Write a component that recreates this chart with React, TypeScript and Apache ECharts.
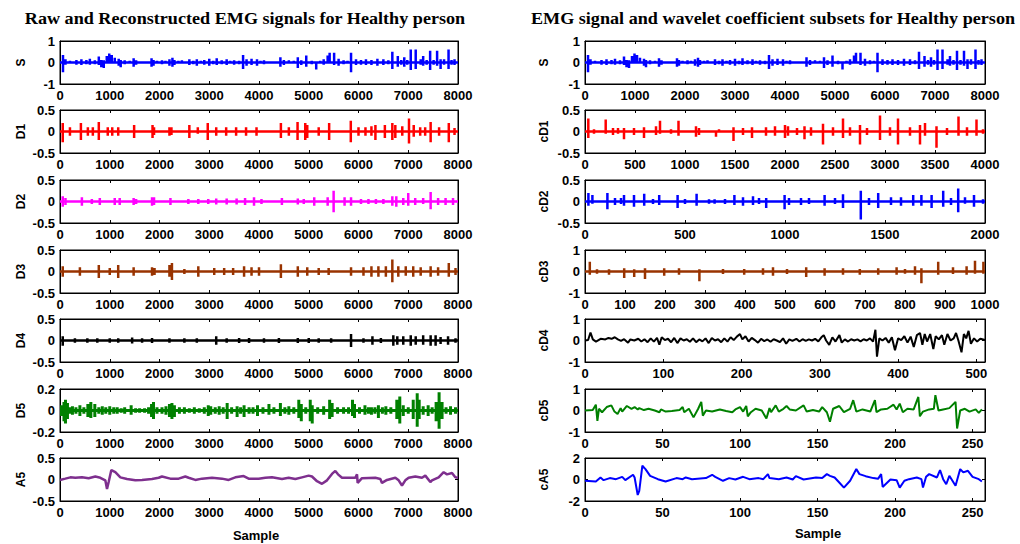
import React, { useEffect, useRef } from "react";
import * as echarts from "echarts";

// ---------- data ----------
// spike lists: [sample, upper excursion, lower excursion]
const sSpikes: number[][] = [
  [60, 0.35, -0.45], [110, 0.15, -0.1], [200, 0.08, -0.06], [330, 0.12, -0.1], [430, 0.15, -0.12], [530, 0.12, -0.08], [600, 0.18, -0.1],
  [700, 0.1, -0.08], [780, 0.28, -0.12], [830, 0.12, -0.22], [880, 0.1, -0.25], [940, 0.3, -0.05], [990, 0.42, 0.1], [1040, 0.35, 0.05],
  [1100, 0.22, -0.05], [1180, 0.18, -0.15], [1220, 0.12, -0.22], [1300, 0.1, -0.08], [1400, 0.08, -0.06], [1480, 0.2, -0.2], [1530, 0.1, -0.1],
  [1650, 0.06, -0.05], [1840, 0.2, -0.2], [1880, 0.12, -0.15], [1950, 0.08, -0.05], [2050, 0.1, -0.08], [2120, 0.08, -0.06], [2200, 0.15, -0.15], [2260, 0.22, -0.2],
  [2300, 0.12, -0.12], [2380, 0.08, -0.06], [2450, 0.1, -0.05], [2600, 0.15, -0.12], [2680, 0.08, -0.08], [2750, 0.15, -0.15], [2830, 0.08, -0.06], [2900, 0.12, -0.1], [3000, 0.18, -0.15],
  [3080, 0.08, -0.08], [3150, 0.2, -0.12], [3250, 0.1, -0.08], [3350, 0.15, -0.12], [3420, 0.08, -0.06], [3500, 0.1, -0.1], [3600, 0.08, -0.08], [3680, 0.35, -0.3], [3750, 0.15, -0.15], [3850, 0.18, -0.12],
  [3960, 0.15, -0.15], [4030, 0.08, -0.06], [4100, 0.1, -0.08], [4250, 0.06, -0.05], [4430, 0.25, -0.2], [4500, 0.12, -0.12], [4600, 0.1, -0.05], [4700, 0.08, -0.06], [4780, 0.25, -0.25],
  [4850, 0.1, -0.12], [4950, 0.32, -0.2], [5060, 0.08, -0.08], [5150, 0.05, -0.32], [5230, 0.08, -0.06], [5300, 0.15, -0.1], [5380, 0.32, -0.05],
  [5420, 0.45, 0.0], [5510, 0.45, -0.12], [5600, 0.18, -0.15], [5700, 0.1, -0.08], [5780, 0.08, -0.06], [5850, 0.45, -0.45], [5950, 0.15, -0.12],
  [6050, 0.12, -0.1], [6150, 0.15, -0.12], [6260, 0.12, -0.12], [6380, 0.18, -0.15], [6500, 0.15, -0.12], [6600, 0.1, -0.08], [6680, 0.5, -0.3],
  [6790, 0.3, -0.2], [6860, 0.12, -0.1], [6920, 0.25, -0.2], [6980, 0.12, -0.1], [7050, 0.6, -0.35], [7150, 0.6, -0.3], [7250, 0.15, -0.1], [7300, 0.3, -0.15],
  [7370, 0.12, -0.1], [7440, 0.55, -0.35], [7510, 0.12, -0.1], [7580, 0.55, -0.15], [7650, 0.15, -0.3], [7720, 0.15, -0.1], [7810, 0.6, -0.3], [7870, 0.12, -0.1], [7930, 0.15, -0.12],
];

const d1Spikes: number[][] = [
  [55, 0.2, -0.25], [200, 0.1, -0.1], [420, 0.2, -0.2], [560, 0.1, -0.1], [660, 0.1, -0.1], [780, 0.22, -0.2], [960, 0.1, -0.1],
  [1050, 0.1, -0.1], [1170, 0.1, -0.1], [1490, 0.15, -0.15], [1860, 0.15, -0.15], [1890, 0.1, -0.08], [2200, 0.1, -0.1],
  [2240, 0.1, -0.08], [2600, 0.15, -0.15], [2770, 0.1, -0.05], [2970, 0.2, -0.2], [3140, 0.1, -0.1], [3340, 0.1, -0.1],
  [3540, 0.1, -0.1], [3740, 0.1, -0.1], [3950, 0.1, -0.1], [4440, 0.2, -0.15], [4600, 0.1, -0.1], [4775, 0.22, -0.2],
  [4930, 0.2, -0.2], [4970, 0.15, -0.15], [5200, 0.1, -0.1], [5410, 0.2, -0.2], [5845, 0.25, -0.25], [6000, 0.1, -0.1],
  [6140, 0.1, -0.1], [6260, 0.12, -0.1], [6340, 0.15, -0.2], [6530, 0.15, -0.15], [6680, 0.2, -0.2], [6740, 0.15, -0.15],
  [6880, 0.12, -0.1], [7015, 0.3, -0.28], [7110, 0.15, -0.12], [7240, 0.1, -0.1], [7340, 0.1, -0.1], [7450, 0.22, -0.25],
  [7620, 0.1, -0.1], [7815, 0.2, -0.25], [7930, 0.08, -0.08],
];

const d2Spikes: number[][] = [
  [55, 0.12, -0.12], [110, 0.08, -0.08], [440, 0.1, -0.1], [640, 0.06, -0.06], [800, 0.08, -0.08], [1100, 0.08, -0.08],
  [1200, 0.08, -0.08], [1480, 0.08, -0.08], [1530, 0.06, -0.06], [1850, 0.1, -0.1], [1890, 0.1, -0.08], [2220, 0.08, -0.08],
  [2580, 0.06, -0.06], [2780, 0.06, -0.06], [2980, 0.06, -0.06], [3140, 0.07, -0.07], [3350, 0.07, -0.07], [3550, 0.07, -0.07],
  [3720, 0.08, -0.08], [3900, 0.1, -0.1], [4050, 0.06, -0.06], [4460, 0.08, -0.08], [4780, 0.07, -0.07], [4900, 0.06, -0.06],
  [5110, 0.1, -0.1], [5380, 0.1, -0.1], [5500, 0.25, -0.25], [5720, 0.1, -0.1], [5850, 0.1, -0.1], [6050, 0.06, -0.06],
  [6200, 0.06, -0.06], [6350, 0.06, -0.06], [6500, 0.06, -0.06], [6680, 0.12, -0.1], [6760, 0.12, -0.12], [6900, 0.08, -0.08],
  [7000, 0.2, -0.1], [7140, 0.08, -0.08], [7300, 0.08, -0.06], [7450, 0.22, -0.18], [7600, 0.08, -0.08], [7750, 0.08, -0.08],
  [7900, 0.08, -0.08],
];

const d3Spikes: number[][] = [
  [55, 0.12, -0.12], [400, 0.1, -0.1], [780, 0.15, -0.15], [1000, 0.08, -0.08], [1170, 0.15, -0.15], [1480, 0.1, -0.1],
  [1850, 0.1, -0.1], [1900, 0.08, -0.08], [2200, 0.15, -0.12], [2250, 0.2, -0.2], [2500, 0.06, -0.06], [2780, 0.12, -0.12],
  [3100, 0.08, -0.08], [3300, 0.08, -0.08], [3480, 0.08, -0.08], [3700, 0.12, -0.12], [3850, 0.1, -0.1], [4000, 0.1, -0.1],
  [4440, 0.17, -0.15], [4780, 0.12, -0.12], [4970, 0.1, -0.1], [5200, 0.08, -0.08], [5400, 0.08, -0.08], [5850, 0.1, -0.1],
  [6100, 0.1, -0.1], [6260, 0.12, -0.12], [6400, 0.12, -0.12], [6550, 0.12, -0.12], [6680, 0.28, -0.25], [6800, 0.12, -0.12],
  [6950, 0.12, -0.1], [7100, 0.12, -0.12], [7250, 0.1, -0.1], [7450, 0.12, -0.12], [7600, 0.1, -0.1], [7815, 0.2, -0.12],
  [7950, 0.08, -0.08],
];

const d4Spikes: number[][] = [
  [55, 0.1, -0.12], [300, 0.05, -0.05], [550, 0.05, -0.05], [750, 0.05, -0.05], [1000, 0.05, -0.05], [1170, 0.05, -0.05],
  [1450, 0.07, -0.07], [1650, 0.05, -0.05], [1850, 0.06, -0.06], [2200, 0.05, -0.05], [2500, 0.05, -0.05], [2750, 0.05, -0.05],
  [3140, 0.1, -0.1], [3350, 0.05, -0.05], [3600, 0.06, -0.06], [3800, 0.06, -0.06], [4100, 0.05, -0.05], [4400, 0.06, -0.06],
  [4780, 0.06, -0.06], [5000, 0.06, -0.06], [5200, 0.05, -0.05], [5450, 0.05, -0.05], [5850, 0.15, -0.15], [6100, 0.05, -0.05],
  [6280, 0.1, -0.1], [6450, 0.06, -0.06], [6700, 0.12, -0.12], [6780, 0.1, -0.1], [6900, 0.1, -0.1], [7050, 0.12, -0.12],
  [7150, 0.1, -0.1], [7300, 0.12, -0.1], [7450, 0.12, -0.12], [7550, 0.12, -0.12], [7650, 0.08, -0.08], [7800, 0.1, -0.1],
  [7950, 0.05, -0.05],
];

const d5Spikes: number[][] = [
  [30, 0.05, -0.05], [80, 0.08, -0.1], [110, 0.1, -0.12], [150, 0.07, -0.08], [200, 0.03, -0.03], [250, 0.04, -0.04], [320, 0.03, -0.03],
  [400, 0.05, -0.05], [480, 0.03, -0.03], [560, 0.06, -0.06], [620, 0.08, -0.07], [700, 0.06, -0.06], [780, 0.03, -0.03], [850, 0.04, -0.04],
  [920, 0.03, -0.03], [1000, 0.04, -0.04], [1080, 0.03, -0.03], [1150, 0.03, -0.03], [1230, 0.02, -0.02], [1300, 0.03, -0.03],
  [1430, 0.05, -0.04], [1520, 0.02, -0.02], [1600, 0.02, -0.02], [1700, 0.02, -0.02], [1780, 0.03, -0.03], [1840, 0.06, -0.06],
  [1880, 0.08, -0.08], [1950, 0.03, -0.03], [2050, 0.03, -0.03], [2130, 0.04, -0.04], [2200, 0.06, -0.06], [2250, 0.07, -0.08],
  [2300, 0.05, -0.06], [2400, 0.03, -0.03], [2500, 0.03, -0.03], [2600, 0.02, -0.02], [2700, 0.03, -0.03], [2800, 0.02, -0.02],
  [2900, 0.03, -0.03], [2980, 0.05, -0.05], [3030, 0.04, -0.04], [3120, 0.03, -0.03], [3200, 0.04, -0.04], [3280, 0.03, -0.03],
  [3360, 0.07, -0.08], [3450, 0.03, -0.03], [3560, 0.04, -0.06], [3630, 0.03, -0.03], [3700, 0.05, -0.06], [3800, 0.03, -0.03],
  [3880, 0.03, -0.03], [3970, 0.05, -0.05], [4080, 0.03, -0.03], [4200, 0.06, -0.04], [4300, 0.03, -0.03], [4430, 0.07, -0.05],
  [4520, 0.03, -0.03], [4600, 0.04, -0.04], [4700, 0.03, -0.03], [4800, 0.1, -0.07], [4850, 0.06, -0.1], [4940, 0.03, -0.03],
  [5030, 0.1, -0.1], [5070, 0.05, -0.12], [5180, 0.03, -0.03], [5300, 0.04, -0.04], [5420, 0.1, -0.08], [5470, 0.07, -0.06],
  [5580, 0.03, -0.03], [5700, 0.03, -0.03], [5800, 0.03, -0.03], [5880, 0.1, -0.05], [5920, 0.06, -0.07], [6020, 0.03, -0.03],
  [6130, 0.05, -0.04], [6200, 0.03, -0.03], [6260, 0.03, -0.04], [6330, 0.03, -0.03], [6400, 0.05, -0.07], [6480, 0.03, -0.03],
  [6550, 0.04, -0.04], [6650, 0.03, -0.03], [6770, 0.1, -0.08], [6830, 0.13, -0.12], [6900, 0.05, -0.05], [7000, 0.03, -0.03],
  [7100, 0.1, -0.08], [7180, 0.16, -0.15], [7220, 0.1, -0.08], [7300, 0.04, -0.04], [7400, 0.05, -0.05], [7480, 0.03, -0.03],
  [7560, 0.08, -0.1], [7620, 0.17, -0.17], [7680, 0.08, -0.08], [7760, 0.03, -0.03], [7850, 0.04, -0.04], [7950, 0.03, -0.03],
];

// approximation signal A5: [sample, value]
const a5Points: number[][] = [
  [0, -0.01], [107, 0.02], [208, 0.05], [308, 0.04], [442, 0.05], [576, 0.03], [710, 0.07], [811, 0.04], [911, -0.02],
  [945, -0.22], [978, -0.06], [1032, 0.22], [1112, 0.17], [1213, 0.05], [1347, 0.01], [1514, -0.02], [1648, -0.01],
  [1849, 0.01], [1983, 0.04], [2050, 0.07], [2218, 0.02], [2385, 0.02], [2519, 0.07], [2586, 0.04], [2720, -0.01],
  [2854, 0.02], [3055, 0.04], [3256, 0.02], [3390, -0.01], [3524, 0.05], [3692, 0.08], [3792, 0.02], [3993, 0.02],
  [4127, 0.04], [4261, 0.05], [4462, 0.01], [4596, 0.04], [4730, 0.01], [4864, 0.05], [4998, 0.09], [5065, 0.07],
  [5166, -0.04], [5266, -0.1], [5367, -0.02], [5467, 0.13], [5534, 0.2], [5588, 0.12], [5668, 0.04], [5936, 0.04],
  [5970, 0.12], [5983, -0.08], [6070, 0.03], [6338, 0.04], [6439, 0.01], [6472, -0.08], [6573, -0.01], [6740, 0.04],
  [6807, -0.02], [6874, -0.14], [6941, -0.02], [7008, 0.04], [7142, 0.07], [7276, 0.04], [7343, 0.09], [7444, -0.06],
  [7477, -0.02], [7611, 0.05], [7712, 0.17], [7779, 0.12], [7879, 0.15], [7946, 0.05], [8000, 0.04],
];

// wavelet coefficient subsets
const cd1Spikes: number[][] = [
  [33, 0.3, -0.15], [90, 0.05, -0.05], [207, 0.28, -0.05], [280, 0.08, -0.08], [330, 0.08, -0.05], [390, 0.08, -0.18],
  [490, 0.08, -0.08], [590, 0.1, -0.15], [710, 0.12, -0.08], [750, 0.25, -0.05], [860, 0.05, -0.05], [935, 0.25, -0.1],
  [1110, 0.12, -0.12], [1140, 0.08, -0.08], [1310, 0.03, -0.12], [1340, 0.05, -0.03], [1485, 0.1, -0.22], [1580, 0.08, -0.08],
  [1670, 0.1, -0.15], [1810, 0.1, -0.1], [1900, 0.12, -0.1], [2000, 0.15, -0.15], [2030, 0.12, -0.1], [2120, 0.08, -0.08],
  [2195, 0.12, -0.18], [2260, 0.1, -0.1], [2380, 0.18, -0.3], [2480, 0.1, -0.1], [2580, 0.3, -0.15], [2650, 0.1, -0.1],
  [2750, 0.15, -0.3], [2820, 0.08, -0.08], [2950, 0.37, -0.2], [3050, 0.1, -0.1], [3130, 0.3, -0.3], [3250, 0.1, -0.1],
  [3350, 0.15, -0.3], [3400, 0.2, -0.1], [3515, 0.12, -0.38], [3620, 0.08, -0.08], [3735, 0.35, -0.1], [3820, 0.1, -0.1],
  [3915, 0.28, -0.1], [3980, 0.05, -0.05],
];

const cd2Spikes: number[][] = [
  [17, 0.2, -0.1], [37, 0.15, -0.05], [112, 0.2, -0.18], [150, 0.08, -0.08], [180, 0.08, -0.06], [195, 0.15, -0.1],
  [245, 0.15, -0.12], [296, 0.18, -0.1], [340, 0.06, -0.06], [371, 0.15, -0.08], [463, 0.15, -0.15], [500, 0.06, -0.06],
  [558, 0.18, -0.1], [620, 0.05, -0.05], [648, 0.05, -0.05], [700, 0.06, -0.06], [747, 0.15, -0.08], [790, 0.1, -0.1],
  [840, 0.12, -0.08], [870, 0.08, -0.06], [906, 0.08, -0.15], [998, 0.15, -0.18], [1020, 0.08, -0.08], [1080, 0.08, -0.08],
  [1120, 0.08, -0.06], [1198, 0.15, -0.1], [1250, 0.08, -0.06], [1290, 0.17, -0.15], [1379, 0.25, -0.42], [1420, 0.08, -0.08],
  [1466, 0.2, -0.15], [1530, 0.1, -0.08], [1580, 0.1, -0.1], [1641, 0.15, -0.1], [1682, 0.15, -0.1], [1733, 0.15, -0.15],
  [1791, 0.25, -0.12], [1830, 0.08, -0.08], [1866, 0.3, -0.25], [1900, 0.1, -0.05], [1945, 0.15, -0.12], [1990, 0.05, -0.05],
];

const cd3Spikes: number[][] = [
  [12, 0.45, -0.15], [30, 0.1, -0.1], [60, 0.1, -0.15], [98, 0.15, -0.3], [123, 0.1, -0.25], [150, 0.15, -0.35],
  [198, 0.15, -0.2], [235, 0.15, -0.15], [286, 0.1, -0.45], [345, 0.12, -0.12], [398, 0.12, -0.15], [445, 0.15, -0.15],
  [470, 0.2, -0.2], [505, 0.12, -0.12], [553, 0.2, -0.25], [599, 0.15, -0.2], [645, 0.15, -0.15], [687, 0.12, -0.15],
  [733, 0.15, -0.15], [779, 0.2, -0.15], [800, 0.12, -0.1], [825, 0.25, -0.15], [841, 0.15, -0.55], [883, 0.45, -0.15],
  [920, 0.2, -0.12], [954, 0.25, -0.15], [975, 0.5, -0.1], [996, 0.45, -0.1],
];

const cd4Points: number[][] = [
  [0, 0], [4, 0.02], [7, 0.37], [10, 0.05], [14, -0.05], [20, 0.08], [26, 0.05], [30, 0.12], [34, 0.08], [38, 0.15], [42, 0.05],
  [46, -0.02], [50, 0.06], [55, -0.1], [58, 0.05], [63, 0.0], [68, 0.08], [72, -0.05], [76, 0.06], [80, -0.08], [84, 0.1],
  [88, -0.05], [92, 0.12], [95, -0.2], [98, 0.15], [102, 0.02], [106, 0.08], [110, -0.08], [114, 0.12], [118, -0.12], [122, 0.1],
  [126, 0.0], [130, 0.06], [134, -0.06], [138, 0.1], [142, -0.08], [146, 0.05], [150, -0.04], [154, 0.1], [158, -0.12],
  [162, 0.12], [166, 0.0], [170, 0.06], [174, -0.08], [178, 0.1], [182, -0.05], [186, 0.15], [190, 0.02], [194, 0.18],
  [198, 0.3], [201, 0.05], [205, 0.2], [209, -0.05], [213, 0.12], [217, 0.02], [221, -0.1], [225, 0.08], [229, -0.03],
  [233, 0.05], [237, -0.06], [241, 0.06], [245, 0.0], [249, -0.08], [253, 0.1], [257, -0.15], [261, 0.05], [265, -0.02],
  [270, 0.08], [274, -0.05], [278, 0.06], [282, -0.02], [286, 0.05], [290, 0.0], [294, 0.08], [298, -0.04], [302, 0.15],
  [305, 0.25], [308, 0.0], [312, -0.2], [316, 0.15], [320, -0.05], [325, 0.25], [328, -0.1], [332, 0.05], [336, -0.05],
  [340, 0.06], [344, 0.0], [348, 0.05], [352, -0.04], [356, 0.06], [360, 0.0], [364, 0.1], [368, -0.05], [371, 0.5],
  [373, -0.75], [376, 0.1], [380, 0.0], [384, 0.12], [388, -0.1], [392, 0.15], [396, -0.45], [400, 0.1], [404, 0.02],
  [408, 0.2], [412, -0.1], [416, 0.18], [420, -0.3], [424, 0.25], [428, 0.35], [431, -0.2], [434, 0.3], [437, -0.05],
  [441, 0.3], [445, -0.4], [448, 0.2], [452, 0.05], [456, 0.25], [459, -0.2], [463, 0.3], [467, 0.0], [471, 0.1], [474, 0.35],
  [477, 0.0], [481, -0.55], [484, 0.3], [487, 0.1], [490, 0.45], [493, -0.15], [497, 0.1], [501, -0.05], [505, 0.08], [511, 0.02],
];

const cd5Points: number[][] = [
  [0, 0], [5, 0.02], [7, 0.27], [8, -0.48], [9, 0.08], [11, -0.08], [14, 0.16], [17, 0.24], [19, -0.05], [21, -0.16], [23, 0.11],
  [24, -0.05], [27, 0.21], [30, 0.08], [32, 0.16], [34, 0.05], [35, 0.11], [38, 0.02], [41, 0.08], [45, 0], [48, -0.08],
  [49, 0.05], [52, -0.05], [56, -0.02], [61, 0.02], [63, 0.16], [64, -0.08], [67, 0.08], [70, -0.32], [73, 0.08], [75, 0.4],
  [76, -0.24], [78, 0], [82, -0.05], [87, 0.05], [91, -0.02], [95, -0.08], [97, 0.05], [100, 0.16], [102, -0.05], [104, 0.21],
  [105, -0.27], [107, -0.08], [110, 0.08], [114, 0], [117, -0.37], [119, 0.11], [120, -0.08], [123, 0.24], [125, -0.05],
  [128, 0.08], [130, 0.21], [132, 0.05], [136, 0], [141, 0.24], [143, -0.05], [147, 0.02], [151, -0.05], [153, 0.16],
  [156, -0.08], [158, -0.52], [160, 0.08], [164, 0.21], [167, -0.08], [171, 0.08], [173, 0.48], [175, -0.05], [179, 0.05],
  [184, -0.05], [187, 0.48], [188, -0.08], [191, 0.05], [195, 0.08], [199, 0.27], [201, 0.05], [203, 0.32], [205, -0.08],
  [208, 0.08], [212, 0.05], [215, 0.63], [216, -0.27], [218, -0.05], [222, 0.05], [225, 0.08], [226, 0.71], [228, 0],
  [231, 0.05], [235, 0.11], [239, 0.4], [240, -0.84], [242, 0], [245, 0.08], [248, -0.05], [252, 0.05], [254, -0.11], [256, 0.05],
];

const ca5Points: number[][] = [
  [0, -0.12], [7, -0.19], [10, 0.19], [12, -0.06], [16, 0.13], [20, 0.03], [24, 0.25], [26, -0.06], [31, 0.44], [32, 0.19],
  [34, -1.44], [35, -1.06], [37, 1.28], [39, 0.97], [42, 0.34], [47, 0.03], [52, -0.19], [59, 0.13], [63, 0.03], [65, 0.19],
  [69, 0.03], [78, 0.13], [82, 0.44], [84, 0.25], [89, -0.12], [93, 0.13], [97, 0], [102, 0.25], [106, 0.03], [112, 0.13],
  [115, 0.03], [118, 0.5], [119, 0.13], [125, 0.03], [130, 0.19], [134, 0], [136, 0.31], [141, 0], [149, 0.19], [153, 0.13],
  [156, 0.5], [158, 0.34], [161, 0.19], [164, -0.28], [167, -0.75], [171, -0.12], [175, 0.97], [177, 0.5], [181, 0.31],
  [186, 0.13], [189, 0.06], [191, 0.5], [192, -0.69], [197, 0], [201, -0.06], [203, -0.75], [206, -0.12], [209, 0.03],
  [214, 0.19], [217, 0.03], [218, -0.75], [220, 0.25], [222, 0.5], [227, 0.19], [229, 0.88], [231, 0.03], [233, -0.44],
  [235, 0.34], [239, -0.59], [242, 0.97], [244, 0.66], [247, 0.81], [250, 0.25], [254, 0.03], [256, -0.19],
];

const leftTitle = "Raw and Reconstructed EMG signals for Healthy person";
const rightTitle = "EMG signal and wavelet coefficient subsets for Healthy person";
const xLabel = "Sample";

// ---------- layout ----------
const TOPS = [41, 110, 180, 250, 319, 389, 458];
const PH = 43;
const LX = 60, LW = 398, RX = 585, RW = 400;
const FONT = "'Liberation Sans', Arial, Helvetica, sans-serif";
const SERIF = "'Liberation Serif', 'Times New Roman', serif";

function spikesToLine(sp: number[][], end: number): number[][] {
  const out: number[][] = [[0, 0]];
  for (const [x, hi, lo] of sp) {
    out.push([x, 0], [x, hi], [x, lo], [x, 0]);
  }
  out.push([end, 0]);
  return out;
}

type Panel = {
  name: string; data: number[][]; color: string; xMax: number; xInt: number;
  yMin: number; yMax: number; yInt: number; col: 0 | 1; row: number; nameGap: number; lw: number;
};

const panels: Panel[] = [
  { name: "S", data: spikesToLine(sSpikes, 8000), color: "#0000ff", xMax: 8000, xInt: 1000, yMin: -1, yMax: 1, yInt: 1, col: 0, row: 0, nameGap: 33, lw: 2.5 },
  { name: "D1", data: spikesToLine(d1Spikes, 8000), color: "#ff0000", xMax: 8000, xInt: 1000, yMin: -0.5, yMax: 0.5, yInt: 0.5, col: 0, row: 1, nameGap: 33, lw: 2.5 },
  { name: "D2", data: spikesToLine(d2Spikes, 8000), color: "#ff00ff", xMax: 8000, xInt: 1000, yMin: -0.5, yMax: 0.5, yInt: 0.5, col: 0, row: 2, nameGap: 33, lw: 2.5 },
  { name: "D3", data: spikesToLine(d3Spikes, 8000), color: "#993300", xMax: 8000, xInt: 1000, yMin: -0.5, yMax: 0.5, yInt: 0.5, col: 0, row: 3, nameGap: 33, lw: 2.5 },
  { name: "D4", data: spikesToLine(d4Spikes, 8000), color: "#000000", xMax: 8000, xInt: 1000, yMin: -0.5, yMax: 0.5, yInt: 0.5, col: 0, row: 4, nameGap: 33, lw: 2.5 },
  { name: "D5", data: spikesToLine(d5Spikes, 8000), color: "#008000", xMax: 8000, xInt: 1000, yMin: -0.2, yMax: 0.2, yInt: 0.2, col: 0, row: 5, nameGap: 33, lw: 3 },
  { name: "A5", data: a5Points, color: "#7e2f8e", xMax: 8000, xInt: 1000, yMin: -0.5, yMax: 0.5, yInt: 0.5, col: 0, row: 6, nameGap: 33, lw: 2.5 },
  { name: "S", data: spikesToLine(sSpikes, 8000), color: "#0000ff", xMax: 8000, xInt: 1000, yMin: -1, yMax: 1, yInt: 1, col: 1, row: 0, nameGap: 35, lw: 2.5 },
  { name: "cD1", data: spikesToLine(cd1Spikes, 4000), color: "#ff0000", xMax: 4000, xInt: 500, yMin: -0.5, yMax: 0.5, yInt: 0.5, col: 1, row: 1, nameGap: 35, lw: 2.5 },
  { name: "cD2", data: spikesToLine(cd2Spikes, 2000), color: "#0000ff", xMax: 2000, xInt: 500, yMin: -0.5, yMax: 0.5, yInt: 0.5, col: 1, row: 2, nameGap: 35, lw: 2.5 },
  { name: "cD3", data: spikesToLine(cd3Spikes, 1000), color: "#993300", xMax: 1000, xInt: 100, yMin: -1, yMax: 1, yInt: 1, col: 1, row: 3, nameGap: 35, lw: 2.5 },
  { name: "cD4", data: cd4Points, color: "#000000", xMax: 511, xInt: 100, yMin: -1, yMax: 1, yInt: 1, col: 1, row: 4, nameGap: 35, lw: 2 },
  { name: "cD5", data: cd5Points, color: "#008000", xMax: 258, xInt: 50, yMin: -1, yMax: 1, yInt: 1, col: 1, row: 5, nameGap: 35, lw: 2 },
  { name: "cA5", data: ca5Points, color: "#0000ff", xMax: 258, xInt: 50, yMin: -2, yMax: 2, yInt: 2, col: 1, row: 6, nameGap: 35, lw: 2 },
];

function buildOption() {
  const grid: any[] = [];
  const xAxis: any[] = [];
  const yAxis: any[] = [];
  const series: any[] = [];
  const lineStyle = { color: "#000", width: 1 };
  const tick = { show: true, inside: true, length: 3, lineStyle };
  const label = { color: "#000", fontWeight: "bold", fontSize: 13, fontFamily: FONT };
  panels.forEach((p, i) => {
    grid.push({
      left: p.col === 0 ? LX : RX, top: TOPS[p.row], width: p.col === 0 ? LW : RW, height: PH,
      show: true, borderColor: "#000", borderWidth: 1, backgroundColor: "transparent",
    });
    const xi = p.xInt;
    const fmt = (v: number) => (Math.abs(v / xi - Math.round(v / xi)) < 1e-6 ? String(Math.round(v)) : "");
    xAxis.push({
      gridIndex: i, type: "value", min: 0, max: p.xMax, interval: xi, position: "bottom",
      axisLine: { show: true, onZero: false, lineStyle }, axisTick: tick,
      axisLabel: { ...label, margin: 5, formatter: fmt, showMaxLabel: true }, splitLine: { show: false },
    });
    xAxis.push({
      gridIndex: i, type: "value", min: 0, max: p.xMax, interval: xi, position: "top",
      axisLine: { show: true, onZero: false, lineStyle }, axisTick: tick,
      axisLabel: { show: false }, splitLine: { show: false },
    });
    yAxis.push({
      gridIndex: i, type: "value", min: p.yMin, max: p.yMax, interval: p.yInt, position: "left",
      axisLine: { show: true, onZero: false, lineStyle }, axisTick: tick,
      axisLabel: { ...label, margin: 5 }, splitLine: { show: false },
      name: p.name, nameLocation: "middle", nameRotate: 90, nameGap: p.nameGap,
      nameTextStyle: { color: "#000", fontWeight: "bold", fontSize: 12, fontFamily: FONT },
    });
    yAxis.push({
      gridIndex: i, type: "value", min: p.yMin, max: p.yMax, interval: p.yInt, position: "right",
      axisLine: { show: true, onZero: false, lineStyle }, axisTick: tick,
      axisLabel: { show: false }, splitLine: { show: false },
    });
    series.push({
      type: "line", xAxisIndex: 2 * i, yAxisIndex: 2 * i, data: p.data,
      showSymbol: false, symbol: "none", silent: true, clip: true,
      lineStyle: { color: p.color, width: p.lw }, itemStyle: { color: p.color },
    });
  });
  const graphic = [
    { type: "text", x: 245, y: 19, scaleX: 1.134, style: { text: leftTitle, fill: "#000", font: `bold 16px ${SERIF}`, textAlign: "center", textVerticalAlign: "middle" } },
    { type: "text", x: 773, y: 19, scaleX: 1.134, style: { text: rightTitle, fill: "#000", font: `bold 16px ${SERIF}`, textAlign: "center", textVerticalAlign: "middle" } },
    { type: "text", x: 256, y: 535, style: { text: xLabel, fill: "#000", font: `bold 13px ${FONT}`, textAlign: "center", textVerticalAlign: "middle" } },
    { type: "text", x: 818, y: 533, style: { text: xLabel, fill: "#000", font: `bold 13px ${FONT}`, textAlign: "center", textVerticalAlign: "middle" } },
  ];
  return { animation: false, backgroundColor: "#fff", grid, xAxis, yAxis, series, graphic };
}

export default function App() {
  const ref = useRef<HTMLDivElement>(null);
  useEffect(() => {
    if (!ref.current) return;
    const chart = echarts.init(ref.current, undefined, { renderer: "svg" });
    chart.setOption(buildOption() as any);
    return () => chart.dispose();
  }, []);
  return <div ref={ref} style={{ position: "absolute", left: 0, top: 0, width: 1020, height: 544 }} />;
}
